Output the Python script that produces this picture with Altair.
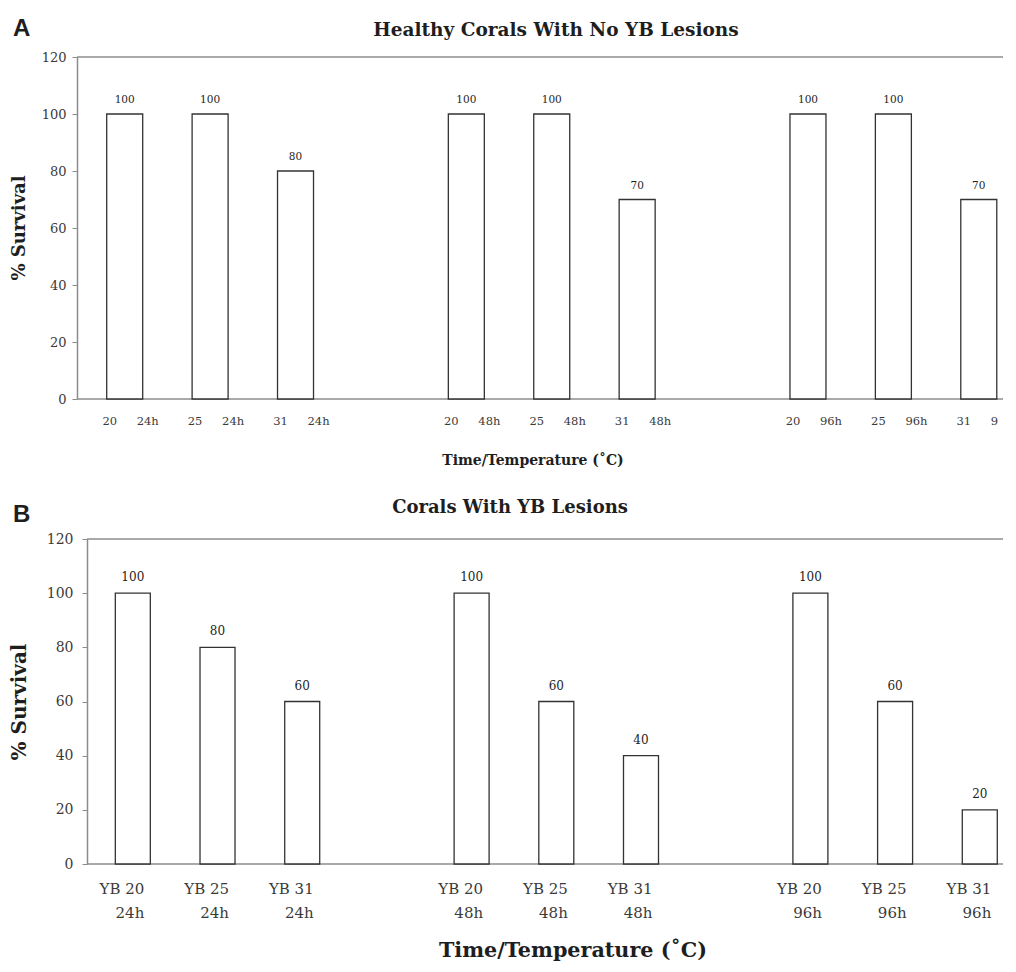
import altair as alt
import pandas as pd

# ---- data ----
times = ["24h", "48h", "96h"]
temps = [20, 25, 31]
healthy_survival = [100, 100, 80, 100, 100, 70, 100, 100, 70]
lesion_survival = [100, 80, 60, 100, 60, 40, 100, 60, 20]
y_ticks = [0, 20, 40, 60, 80, 100, 120]
title_a = "Healthy Corals With No YB Lesions"
title_b = "Corals With YB Lesions"
y_title = "% Survival"
x_title = "Time/Temperature (˚C)"

rows = []
for gi, t in enumerate(times):
    for ti, c in enumerate(temps):
        k = gi * 3 + ti
        rows.append({
            "slot": gi * 4 + ti,
            "temp": str(c),
            "time": t,
            "yb": f"YB {c}",
            "healthy": healthy_survival[k],
            "lesion": lesion_survival[k],
            "edge": int(gi * 4 + ti == 10),
        })
df = pd.DataFrame(rows)
frame = pd.DataFrame({"yv": [0, 120]})
one = pd.DataFrame({"t": [""]})

SERIF = "DejaVu Serif"
SANS = "Liberation Sans"
AXIS_GRAY = "#8c8c8c"
BAR_STROKE = "#333333"
TEXT = "#1e1e1e"
LABEL = "#3a3a3a"

WA, HA = 926, 342
WB, HB = 926, 325


def txt(s, x, y, size, font=SERIF, weight="bold", angle=0, align="center", baseline="middle"):
    kw = dict(font=font, fontSize=size, fontWeight=weight, align=align,
              baseline=baseline, color=TEXT)
    if angle:
        kw["angle"] = angle
    return alt.Chart(pd.DataFrame({"t": [s]})).mark_text(**kw).encode(
        x=alt.value(x), y=alt.value(y), text="t:N")


# ---------------- Panel A ----------------
xA = alt.X("slot:Q", scale=alt.Scale(domain=[-0.5, 10.225], nice=False, zero=False), axis=None)
yA_scale = alt.Scale(domain=[0, 120], nice=False)
yA = alt.Y("healthy:Q", scale=yA_scale,
           axis=alt.Axis(values=y_ticks, title=None, grid=False, domainColor=AXIS_GRAY,
                         domainWidth=1.5, tickColor=AXIS_GRAY, tickSize=5, tickWidth=1,
                         labelFont=SERIF, labelFontSize=13, labelColor=LABEL, labelPadding=6))
baseA = alt.Chart(df)
barsA = baseA.mark_bar(size=36, fill="white", stroke=BAR_STROKE, strokeWidth=1.3).encode(x=xA, y=yA)
valsA = baseA.mark_text(font=SERIF, fontSize=10.5, dy=-14, baseline="middle", color=TEXT).encode(
    x=xA, y=yA, text="healthy:Q")
tempA = baseA.mark_text(font=SERIF, fontSize=11.5, dx=-15, baseline="middle", color=LABEL).encode(
    x=xA, y=alt.value(HA + 23), text="temp:N")
timeA = baseA.transform_filter("datum.edge == 0").mark_text(
    font=SERIF, fontSize=11.5, dx=12, align="left", baseline="middle", color=LABEL).encode(
    x=xA, y=alt.value(HA + 23), text="time:N")
timeA_edge = baseA.transform_filter("datum.edge == 1").mark_text(
    font=SERIF, fontSize=11.5, dx=12, align="left", baseline="middle", color=LABEL,
    limit=12, ellipsis="\u200b").encode(
    x=xA, y=alt.value(HA + 23), text="time:N")
rulesA = alt.Chart(frame).mark_rule(color=AXIS_GRAY, strokeWidth=1.5).encode(
    y=alt.Y("yv:Q", scale=yA_scale), x=alt.value(0), x2=alt.value(WA))
ghostA = alt.Chart(one).mark_rule(strokeOpacity=0, strokeWidth=1).encode(
    x=alt.value(-68.5), y=alt.value(-48.5), y2=alt.value(HA + 75))

panelA = alt.layer(
    rulesA, barsA, valsA, tempA, timeA, timeA_edge, ghostA,
    txt("A", -64, -21, 24, font=SANS, align="left", baseline="alphabetic"),
    txt(title_a, 479, -27, 18.5),
    txt(y_title, -57, 171, 18, angle=270),
    txt(x_title, 456, HA + 62, 14),
).properties(width=WA, height=HA)

# ---------------- Panel B ----------------
xB = alt.X("slot:Q", scale=alt.Scale(domain=[-0.6, 10.215], nice=False, zero=False), axis=None)
yB_scale = alt.Scale(domain=[0, 120], nice=False)
yB = alt.Y("lesion:Q", scale=yB_scale,
           axis=alt.Axis(values=y_ticks, title=None, grid=False, domainColor=AXIS_GRAY,
                         domainWidth=1.5, tickColor=AXIS_GRAY, tickSize=5, tickWidth=1,
                         labelFont=SERIF, labelFontSize=14, labelColor=LABEL, labelPadding=9,
                         offset=-10))
baseB = alt.Chart(df)
barsB = baseB.mark_bar(size=35, fill="white", stroke=BAR_STROKE, strokeWidth=1.3).encode(x=xB, y=yB)
valsB = baseB.mark_text(font=SERIF, fontSize=12, dy=-16, baseline="middle", color=TEXT).encode(
    x=xB, y=yB, text="lesion:Q")
ybB = baseB.mark_text(font=SERIF, fontSize=15, dx=11.5, align="right", baseline="middle", color=LABEL).encode(
    x=xB, y=alt.value(HB + 25), text="yb:N")
timeB = baseB.mark_text(font=SERIF, fontSize=15, dx=11.5, align="right", baseline="middle", color=LABEL).encode(
    x=xB, y=alt.value(HB + 49), text="time:N")
rulesB = alt.Chart(frame).mark_rule(color=AXIS_GRAY, strokeWidth=1.5).encode(
    y=alt.Y("yv:Q", scale=yB_scale), x=alt.value(10), x2=alt.value(WB))
ghostB = alt.Chart(one).mark_rule(strokeOpacity=0, strokeWidth=1).encode(
    x=alt.value(-68.5), y=alt.value(-59.5), y2=alt.value(0))

panelB = alt.layer(
    rulesB, barsB, valsB, ybB, timeB, ghostB,
    txt("B", -64, -17, 24, font=SANS, align="left", baseline="alphabetic"),
    txt(title_b, 433, -31, 18),
    txt(y_title, -57, 163, 20, angle=270),
    txt(x_title, 496, HB + 87, 20.7),
).properties(width=WB, height=HB)

chart = alt.vconcat(panelA, panelB, spacing=5).properties(
    padding={"left": 0, "top": 0, "right": 0, "bottom": 0}
).configure_view(stroke=None).resolve_scale(x="independent", y="independent")

chart.save("out.html", embed_options={"renderer": "svg", "actions": False})
